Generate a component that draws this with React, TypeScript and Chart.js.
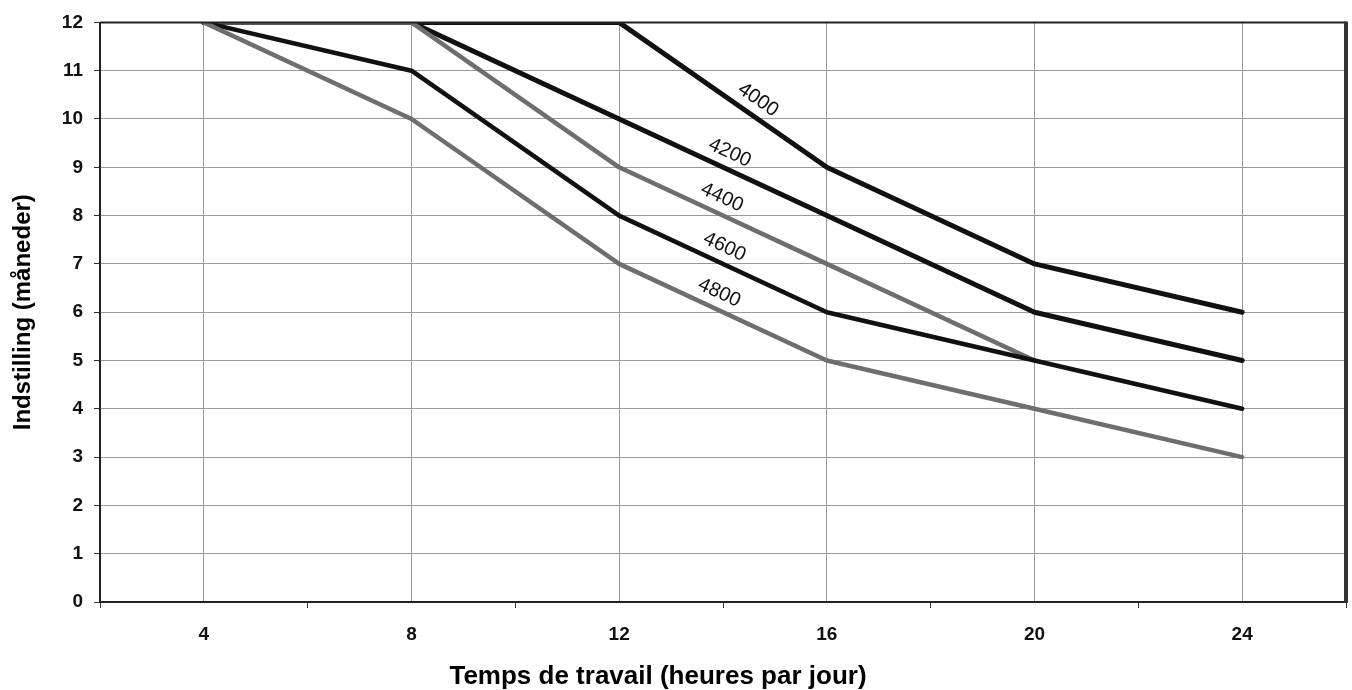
import React, { useEffect, useRef } from "react";
import { Chart, registerables } from "chart.js";

Chart.register(...registerables);

const hours = [4, 8, 12, 16, 20, 24];
const seriesNames = ["4000", "4200", "4400", "4600", "4800"];
const s4000 = [12, 12, 12, 9, 7, 6];
const s4200 = [12, 12, 10, 8, 6, 5];
const s4400 = [12, 12, 9, 7, 5, null];
const s4600 = [12, 11, 8, 6, 5, 4];
const s4800 = [12, 10, 7, 5, 4, 3];
const seriesValues = [s4000, s4200, s4400, s4600, s4800];
const seriesColors = ["#111111", "#111111", "#6e6e6e", "#111111", "#6e6e6e"];
const seriesWidths = [5, 5, 4.5, 4.5, 4.5];
const labelAnchorX = [14.5, 14.0, 13.85, 13.9, 13.8];
const xMin = 2;
const xMax = 26;
const yMin = 0;
const yMax = 12;

const xTitle = "Temps de travail (heures par jour)";
const yTitle = "Indstilling (måneder)";
const FONT = "'Liberation Sans', Arial, sans-serif";

const decorPlugin = {
  id: "decor",
  beforeDraw(chart: any) {
    const { ctx } = chart;
    ctx.save();
    ctx.fillStyle = "#ffffff";
    ctx.fillRect(0, 0, chart.width, chart.height);
    ctx.restore();
  },
  afterDatasetsDraw(chart: any) {
    const { ctx, chartArea } = chart;
    const xs = chart.scales.x;
    const ys = chart.scales.y;
    ctx.save();
    ctx.strokeStyle = "#222222";
    ctx.lineWidth = 2;
    ctx.beginPath();
    ctx.moveTo(chartArea.left, chartArea.top);
    ctx.lineTo(chartArea.right, chartArea.top);
    ctx.moveTo(chartArea.left, chartArea.top);
    ctx.lineTo(chartArea.left, chartArea.bottom);
    ctx.lineTo(chartArea.right, chartArea.bottom);
    ctx.stroke();
    ctx.lineWidth = 4;
    ctx.strokeStyle = "#333333";
    ctx.beginPath();
    ctx.moveTo(chartArea.right, chartArea.top - 1);
    ctx.lineTo(chartArea.right, chartArea.bottom + 1);
    ctx.stroke();

    ctx.font = `20px ${FONT}`;
    ctx.fillStyle = "#111111";
    ctx.textAlign = "center";
    ctx.textBaseline = "middle";
    seriesValues.forEach((vals, i) => {
      const lx = labelAnchorX[i];
      let j = 0;
      while (j < hours.length - 2 && hours[j + 1] < lx) j++;
      const y1 = vals[j] as number;
      const y2 = vals[j + 1] as number;
      const p1x = xs.getPixelForValue(hours[j]);
      const p2x = xs.getPixelForValue(hours[j + 1]);
      const p1y = ys.getPixelForValue(y1);
      const p2y = ys.getPixelForValue(y2);
      const t = (lx - hours[j]) / (hours[j + 1] - hours[j]);
      const px = p1x + t * (p2x - p1x);
      const py = p1y + t * (p2y - p1y);
      const a = Math.atan2(p2y - p1y, p2x - p1x);
      const off = 16;
      const cx = px + off * Math.sin(a);
      const cy = py - off * Math.cos(a);
      ctx.save();
      ctx.translate(cx, cy);
      ctx.rotate(a);
      ctx.fillText(seriesNames[i], 0, 0);
      ctx.restore();
    });

    ctx.fillStyle = "#000000";
    ctx.textAlign = "center";
    ctx.textBaseline = "middle";
    ctx.font = `bold 26px ${FONT}`;
    ctx.fillText(xTitle, 658, 677);
    ctx.font = `bold 24px ${FONT}`;
    ctx.save();
    ctx.translate(23, (chartArea.top + chartArea.bottom) / 2);
    ctx.rotate(-Math.PI / 2);
    ctx.fillText(yTitle, 0, 0);
    ctx.restore();
    ctx.restore();
  },
};

export default function App() {
  const ref = useRef<HTMLCanvasElement | null>(null);
  useEffect(() => {
    if (!ref.current) return;
    const datasets = seriesValues.map((vals, i) => ({
      label: seriesNames[i],
      data: hours.map((h, k) => ({ x: h, y: vals[k] })),
      borderColor: seriesColors[i],
      backgroundColor: seriesColors[i],
      borderWidth: seriesWidths[i],
      pointRadius: 0,
      tension: 0,
      spanGaps: false,
      order: seriesValues.length - i,
      borderJoinStyle: "round" as const,
      borderCapStyle: "round" as const,
    }));
    const chart = new Chart(ref.current, {
      type: "line",
      data: { datasets },
      options: {
        animation: false,
        responsive: false,
        layout: { padding: { left: 0, right: 6, top: 20, bottom: 0 } },
        plugins: { legend: { display: false }, tooltip: { enabled: false } },
        scales: {
          x: {
            type: "linear",
            min: xMin,
            max: xMax,
            afterFit(scale: any) {
              scale.height = 88;
              scale.paddingRight = 0;
              scale.paddingLeft = 0;
            },
            afterBuildTicks(scale: any) {
              const t = [];
              for (let v = xMin; v <= xMax; v += 2) t.push({ value: v });
              scale.ticks = t;
            },
            border: { display: false },
            grid: {
              color: (c: any) =>
                c.tick && c.tick.value % 4 === 0 ? "#999999" : "rgba(0,0,0,0)",
              tickColor: (c: any) =>
                c.tick && c.tick.value % 4 === 2 ? "#333333" : "rgba(0,0,0,0)",
              lineWidth: 1,
              tickLength: 6,
              drawTicks: true,
            },
            ticks: {
              autoSkip: false,
              maxRotation: 0,
              padding: 15,
              color: "#111111",
              font: { family: FONT, size: 19, weight: "bold" },
              callback: (v: any) => (Number(v) % 4 === 0 ? String(v) : ""),
            },
          },
          y: {
            type: "linear",
            min: yMin,
            max: yMax,
            afterFit(scale: any) {
              scale.width = 100;
            },
            border: { display: false },
            grid: {
              color: "#999999",
              tickColor: "#333333",
              lineWidth: 1,
              tickLength: 6,
            },
            ticks: {
              stepSize: 1,
              padding: 11,
              color: "#111111",
              font: { family: FONT, size: 19, weight: "bold" },
            },
          },
        },
      },
      plugins: [decorPlugin],
    });
    return () => chart.destroy();
  }, []);
  return (
    <div style={{ position: "absolute", left: 0, top: 0, width: 1352, height: 690 }}>
      <canvas ref={ref} width={1352} height={690} />
    </div>
  );
}
